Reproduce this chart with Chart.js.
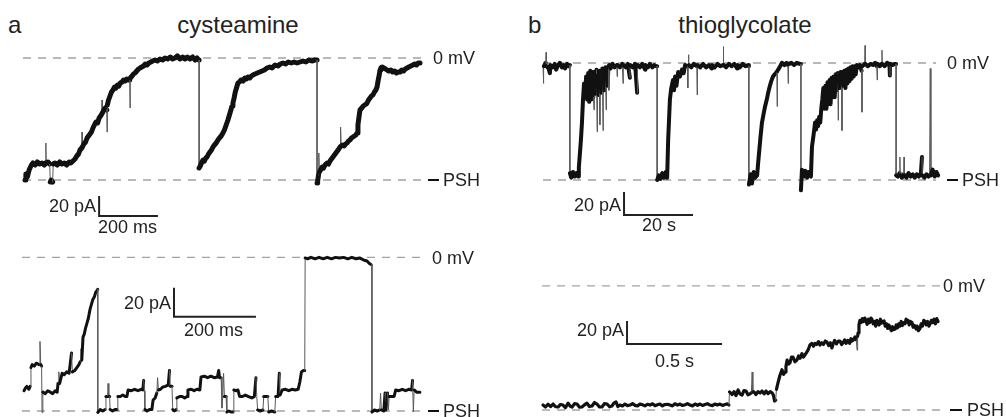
<!DOCTYPE html>
<html><head><meta charset="utf-8">
<script src="https://cdn.jsdelivr.net/npm/chart.js@4"></script>
<style>
html,body{margin:0;padding:0;background:#fff;}
body{width:1006px;height:417px;overflow:hidden;position:relative;font-family:"Liberation Sans",Arial,sans-serif;color:#222;}
canvas{position:absolute;}
.t{position:absolute;white-space:nowrap;line-height:1;}
.dash{position:absolute;background:#111;height:2.5px;}
</style></head><body>
<canvas id="aTop"></canvas>
<canvas id="aBottom"></canvas>
<canvas id="bTop"></canvas>
<canvas id="bBottom"></canvas>
<script>
// ---------- DATA (time, current) ----------
// Panel a, cysteamine, upper trace: time in ms, current in pA (0 = PSH level)
const cysteamineTraceTop = [
[0,0],[3,6],[8,3],[14,10],[17,12],[22,15],[27,17],[35,15],[42,18],[50,16],[58,17],[66,15],[70,17],[71,37],[72,17],[78,18],[84,16],[86,-2],[89,0],[94,-2],[96,16],[102,17],[110,15],[118,18],[126,16],[134,17],[142,15],[150,18],[156,17],[163,19],[170,21],[176,24],[182,26],[187,30],[193,32],[194,48],[195,33],[200,36],[206,38],[211,42],[216,44],[221,46],[226,48],[231,52],[236,55],[241,58],[247,57],[252,62],[257,64],[261,66],[262,80],[263,67],[268,70],[273,72],[278,70],[279,48],[280,75],[284,80],[289,84],[294,88],[299,90],[304,93],[309,92],[314,95],[319,94],[324,97],[330,98],[335,100],[340,99],[346,101],[352,100],[356,100],[357,72],[358,102],[364,104],[369,106],[374,107],[380,109],[386,111],[391,112],[397,113],[403,114],[409,116],[415,115],[421,117],[428,118],[434,119],[442,120],[450,119],[459,121],[468,120],[476,122],[485,121],[494,123],[502,121],[510,122],[518,124],[527,121],[536,123],[544,121],[552,123],[561,121],[570,123],[578,120],[585,122],[590,120],[592,120],[592,12],
[596,14],[600,17],[605,20],[610,19],[615,22],[619,23],[624,26],[629,28],[634,30],[639,33],[644,35],[650,37],[656,40],[661,42],[667,44],[673,47],[678,50],[684,55],[690,60],[695,65],[700,70],[704,74],[707,77],[711,82],[715,88],[720,93],[724,97],[729,98],[734,100],[738,100],[742,99],[747,102],[752,101],[758,103],[764,102],[770,104],[775,105],[782,106],[790,107],[798,108],[806,109],[814,110],[823,112],[832,113],[840,112],[850,115],[860,114],[868,116],[877,117],[886,116],[895,118],[905,117],[915,118],[925,117],[935,118],[945,119],[955,118],[965,120],[975,119],[986,120],[993,120],[993,-3],
[995,-1],[998,5],[999,27],[1001,8],[1005,10],[1010,13],[1015,12],[1020,15],[1027,17],[1032,16],[1037,19],[1042,21],[1047,23],[1052,25],[1057,27],[1062,29],[1067,31],[1071,33],[1073,53],[1075,34],[1080,35],[1085,34],[1090,36],[1095,37],[1100,39],[1105,40],[1110,42],[1115,43],[1120,44],[1125,45],[1129,47],[1132,55],[1136,64],[1139,70],[1145,72],[1150,74],[1155,75],[1160,76],[1163,77],[1168,80],[1173,82],[1178,84],[1183,85],[1188,88],[1193,90],[1197,93],[1201,100],[1205,106],[1207,110],[1210,112],[1214,113],[1220,112],[1226,111],[1231,110],[1237,109],[1244,110],[1250,108],[1257,109],[1263,107],[1270,108],[1275,108],[1281,110],[1287,109],[1293,111],[1299,112],[1305,113],[1312,114],[1319,115],[1325,116],[1331,115],[1337,117],[1343,117]
];
// Panel a, cysteamine, lower trace: time in ms, current in pA
const cysteamineTraceBottom = [
[0,14],[4,16],[7,17],[12,15],[15,17],[17,30],[20,32],[25,31],[30,33],[37,32],[39,48],[41,32],[43,31],[44,-1],[46,13],[52,12],[58,14],[64,13],[70,12],[76,14],[81,13],[83,19],[85,27],[87,19],[93,26],[98,25],[104,27],[110,26],[116,40],[118,27],[124,28],[129,30],[134,32],[137,34],[139,43],[141,35],[144,51],[147,53],[150,57],[154,61],[157,64],[161,70],[164,73],[168,77],[172,79],[175,82],[178,83],[180,84],[180,-1],
[186,1],[192,0],[198,1],[200,10],[204,10],[205,19],[207,10],[209,10],[210,1],[216,0],[222,1],[227,1],[229,10],[235,10],[241,11],[247,10],[251,10],[254,14.5],[262,14],[270,15],[278,14],[286,15],[290,14.5],[292,21],[294,14],[295,1],[300,0],[306,1],[312,1],[315,7.6],[320,9],[324,12.4],[326,23],[328,14.5],[333,15],[339,16.6],[345,17],[352,18],[355,28],[357,17],[361,17],[363,1],[367,0],[371,1],[373,9],[380,10],[386,10],[392,9],[398,10],[400,14.5],[408,15],[415,14],[422,15],[429,14.5],[432,23.5],[440,24],[448,23],[456,24],[464,23],[472,23.5],[475,28],[477,23],[481,23],[483,2],[485,10],[487,26],[489,10],[493,10],[495,-0.7],[500,0],[505,-0.7],[510,-0.7],[512,14.5],[518,14],[522,14.5],[526,10],[533,10],[540,11],[548,10],[556,9],[562,10],[566,23],[568,10],[570,0.7],[576,0],[583,0.7],[585,10],[590,10],[595,10],[597,-0.7],[604,0],[612,-0.7],[614,10],[620,10],[623,26],[625,11],[630,14.5],[638,15],[646,14],[654,15],[662,14.5],[669,15],[673,20],[677,27],[682,28],[685,28],
[686,105.6],[692,105],[700,106],[710,105],[720,106],[730,105],[740,106],[750,105],[760,106],[770,105.5],[780,106],[790,105],[800,106],[810,105],[820,105.5],[830,104],[837,103.5],[842,102],[847,101],[849,101],[849,-0.7],
[855,0.7],[862,0],[868,0.7],[870,12.4],[872,0.7],[878,0],[881,12.4],[883,0.7],[887,12.4],[889,0.7],[891,10],[897,10],[903,10],[905,10],[907,14.5],[915,14],[923,15],[931,14],[939,15],[946,14.5],[948,21],[950,-0.7],[952,14.5],[958,13],[966,13]
];
// Panel b, thioglycolate, upper trace: time in s, current in pA
const thioglycolateTraceTop = [
[0,100],[0.1,84],[0.25,99],[0.8,102],[0.9,111],[1.0,99],[1.6,97],[2.0,93],[2.1,100],[2.8,98],[3.4,101],[3.8,96],[4.4,100],[4.9,102],[5.5,98],[6.0,100],[6.4,97],[7.0,101],[7.5,99],[7.8,100],[7.8,6],
[8.2,2],[8.7,7],[9.2,3],[9.7,6],[10.2,3],[10.4,11],[11.0,35],[11.3,50],[11.6,70],[11.9,84],[12.2,72],[12.5,90],[12.8,70],[13.1,93],[13.4,68],[13.7,95],[14.0,70],[14.3,94],[14.6,72],[14.8,61],[14.9,94],[15.2,75],[15.5,96],[15.7,42],[15.8,91],[16.1,74],[16.4,95],[16.5,48],[16.6,94],[16.9,76],[17.2,97],[17.4,43],[17.5,96],[17.8,78],[18.1,98],[18.3,61],[18.4,97],[18.7,82],[19.0,99],[19.1,78],[19.2,100],[19.6,97],[20.2,101],[20.8,98],[21.4,100],[21.5,90],[21.6,100],[22.3,98],[23.0,101],[23.2,84],[23.3,100],[24.0,98],[24.6,101],[25.2,89],[25.3,100],[26.0,98],[26.7,101],[27.3,76],[27.4,100],[28.1,98],[28.8,101],[29.6,96],[29.7,100],[30.4,98],[31.0,101],[31.7,98],[32.3,100],[32.8,99],[33.1,99],[33.1,0],
[33.6,4],[34.1,1],[34.6,6],[35.1,2],[35.6,7],[36.0,2],[36.3,35],[36.8,70],[37.2,80],[37.7,87],[38.0,78],[38.3,90],[38.7,82],[39.2,94],[39.7,90],[40.3,96],[40.8,93],[41.2,100],[41.9,99],[42.0,80],[42.1,100],[42.2,109],[42.3,100],[43.0,98],[43.7,101],[44.6,99],[44.7,74],[44.8,100],[45.6,98],[46.4,101],[47.3,98],[48.1,100],[48.9,97],[49.0,100],[49.8,98],[50.6,101],[51.4,99],[52.2,100],[52.3,116],[52.4,100],[53.1,98],[53.9,101],[54.7,99],[55.5,101],[56.3,97],[56.4,100],[57.1,98],[57.9,101],[58.7,99],[59.5,100],[59.7,99],[59.7,-4],
[60.2,5],[60.6,-3],[61.1,7],[61.5,2],[62.1,4],[62.4,15],[63.0,35],[63.5,50],[64.0,58],[64.4,64],[64.9,70],[65.3,76],[65.8,82],[66.2,86],[66.7,90],[67.2,92],[67.8,94],[67.9,64],[68.0,95],[68.6,98],[69.3,102],[70.0,100],[70.6,102],[71.0,100],[71.1,84],[71.2,101],[72.0,102],[72.8,100],[73.6,102],[74.5,101],[74.8,101],[74.8,-9],
[75.1,9],[75.6,3],[76.1,8],[76.6,2],[77.1,7],[77.7,3],[78.0,29],[78.5,40],[78.9,50],[79.2,44],[79.5,52],[79.8,47],[80.1,55],[80.4,50],[80.7,62],[81.0,70],[81.3,80],[81.6,62],[81.9,82],[82.2,62],[82.5,85],[82.8,66],[83.1,87],[83.4,66],[83.7,89],[84.0,72],[84.3,90],[84.6,72],[84.9,92],[85.2,78],[85.5,93],[85.6,52],[85.7,91],[86.0,80],[86.3,94],[86.6,82],[86.7,43],[86.8,94],[87.1,82],[87.4,95],[87.7,80],[88.0,96],[88.3,84],[88.6,97],[88.9,86],[89.2,98],[89.5,88],[89.8,99],[90.1,90],[90.4,99],[90.7,92],[91.0,100],[91.5,98],[91.9,100],[92.4,95],[92.5,59],[92.6,99],[93.0,100],[93.3,101],[93.4,117],[93.5,101],[94.2,99],[95.0,101],[95.7,100],[96.3,102],[96.8,99],[96.9,87],[97.0,101],[97.7,99],[98.2,101],[98.3,113],[98.4,101],[99.1,99],[99.8,102],[100.5,99],[100.6,91],[100.7,101],[101.4,100],[102.1,101],[102.4,101],[102.4,4],
[102.9,3],[103.4,6],[103.5,20],[103.6,4],[104.1,2],[104.6,5],[104.7,20],[104.8,4],[105.4,2],[106.0,6],[106.6,3],[107.2,5],[107.8,2],[108.4,5],[109.0,3],[109.6,6],[109.9,20],[110.0,4],[110.6,2],[111.2,5],[111.8,3],[112.1,4],[112.3,97],[112.5,4],[113.0,9],[113.6,3],[114.1,7],[114.6,4]
];
// Panel b, thioglycolate, lower trace: time in ms, current in pA
const thioglycolateTraceBottom = [
[0,4.3],[13,2.6],[26,5],[40,3],[53,5.2],[66,2.8],[79,2.6],[92,4.8],[105,4.3],[118,2],[132,6],[142,3.5],[153,2.6],[166,5.5],[179,5.2],[192,2.4],[205,2.6],[218,4.5],[231,6],[244,3],[258,3.5],[271,6.5],[284,5.2],[297,2.6],[310,2.6],[323,5.5],[337,5.2],[350,2.8],[363,3.5],[373,6],[384,7],[394,3],[405,4.3],[418,3.5],[431,5.2],[444,3.8],[458,4.3],[471,5.6],[484,4],[497,3.5],[510,5.2],[523,4.5],[536,3.6],[550,5],[563,4.3],[576,5.4],[589,3.8],[602,4.6],[615,5.2],[628,3.6],[641,4.8],[655,5],[668,4.3],[681,3.6],[694,5.4],[708,4.2],[721,5.2],[734,3.9],[747,4.6],[760,5.5],[773,4.3],[786,3.6],[800,5.2],[813,4.1],[826,5.2],[839,4],[852,4.8],[865,5.5],[878,4.3],[891,3.8],[904,5.2],[917,4.4],[931,5.2],[944,4],[957,4.8],[970,5.3],[978,4.3],
[981,15.7],[995,13.5],[1005,16],[1015,12.5],[1026,17.4],[1036,14],[1047,13],[1057,16.8],[1068,16.5],[1078,13.2],[1089,14],[1096,15],[1100,33],[1104,15.7],[1110,15.7],[1120,13.5],[1131,16],[1142,14.8],[1152,16.5],[1163,14],[1173,16.5],[1184,14.2],[1195,16],[1205,14.8],[1212,13],[1218,7.8],[1224,8.5],[1228,18],[1236,23.5],[1246,30],[1257,35],[1265,31],[1273,33],[1278,38],[1284,43.5],[1292,40],[1299,41],[1307,46],[1315,46],[1325,42],[1336,43.5],[1344,47],[1352,45],[1362,49],[1370,46],[1378,48],[1386,50],[1394,52],[1404,56.5],[1414,58],[1423,55.5],[1431,58],[1440,57],[1449,59.5],[1457,56.5],[1466,58.5],[1475,57],[1485,60],[1494,59],[1503,56],[1512,58.5],[1520,54],[1525,57],[1534,60.5],[1544,57.5],[1553,60],[1562,60],[1571,57],[1580,59],[1587,61],[1594,58],[1603,60.5],[1613,58],[1620,62],[1625,60],[1633,61],[1641,63.5],[1648,61],[1652,52],[1655,64],[1657,67],[1662,74],[1667,78],[1673,76],[1680,79.5],[1686,77],[1693,80],[1699,77],[1705,74.5],[1712,79],[1718,76],[1725,80],[1730,79],[1737,75],[1743,77],[1750,73],[1756,78],[1762,76],[1768,74],[1775,79],[1781,75.5],[1788,77],[1794,77.5],[1800,73],[1807,75],[1813,71],[1819,74],[1825,72],[1832,69],[1838,72.5],[1845,70],[1852,70.5],[1858,74],[1865,71.5],[1871,75],[1878,73],[1884,77],[1891,73.5],[1897,76],[1904,75],[1910,79],[1915,76.5],[1920,78],[1926,74],[1933,77],[1941,76],[1947,72],[1954,73.5],[1962,70.5],[1968,73],[1975,69],[1983,71],[1989,75],[1996,73],[2003,78],[2009,77],[2016,74],[2023,77],[2030,73],[2036,75],[2043,78],[2050,76],[2057,79],[2064,75],[2071,79.5],[2078,77]
];
// reference levels (pA above PSH) for "0 mV" in each panel
const zeroMvLevels = {aTop: 122, aBottom: 106, bTop: 101.8, bBottom: 108};
// extent of the dashed reference lines [start, end] in each panel's time units
const dashExtents = {aTop: [-6.8, 1350], aBottom: [-5, 971], bTop: [0, 114], bBottom: [-5, 2088]};
// scale bars: [time at corner, current at corner, time length, current length]
const scaleBars = {aTop: [252, -36, 200, 20], aBottom: [366, 65, 200, 20], bTop: [23.5, -30.4, 20, 20], bBottom: [442, 57.4, 500, 20]};

// ---------- LAYOUT ----------
const panels = {
  aTop:    {rect:[0,40,500,200],   origin:[25,180],  perPx:[3.4,1.0],   trace:cysteamineTraceTop,      width:5},
  aBottom: {rect:[0,240,500,177],  origin:[24,411],  perPx:[2.44,0.69], trace:cysteamineTraceBottom,   width:3},
  bTop:    {rect:[500,40,506,200], origin:[543,180], perPx:[0.29,0.87], trace:thioglycolateTraceTop,   width:4},
  bBottom: {rect:[500,240,506,177],origin:[543,410], perPx:[5.26,0.87], trace:thioglycolateTraceBottom,width:3.2}
};

const toXY = arr => arr.map(p => ({x:p[0], y:p[1]}));
const thin = c => Math.abs(c.p1.x - c.p0.x) < 1.0 && Math.abs(c.p1.y - c.p0.y) > 10;

Object.keys(panels).forEach(key => {
  const p = panels[key];
  const [L,T,W,H] = p.rect;
  const cv = document.getElementById(key);
  cv.width = W; cv.height = H;
  cv.style.left = L+'px'; cv.style.top = T+'px';
  cv.style.width = W+'px'; cv.style.height = H+'px';
  const xmin = (L - p.origin[0]) * p.perPx[0];
  const xmax = (L + W - p.origin[0]) * p.perPx[0];
  const ymax = (p.origin[1] - T) * p.perPx[1];
  const ymin = (p.origin[1] - T - H) * p.perPx[1];
  const ext = dashExtents[key];
  const zl = zeroMvLevels[key];
  const sb = scaleBars[key];
  const dashStyle = {borderColor:'#a3a3a3', borderWidth:1.4, borderDash:[8,7], pointRadius:0, order:3, borderCapStyle:'butt'};
  new Chart(cv, {
    type:'line',
    data:{datasets:[
      Object.assign({data:toXY([[ext[0],0],[ext[1],0]])}, dashStyle),
      Object.assign({data:toXY([[ext[0],zl],[ext[1],zl]])}, dashStyle),
      {data:toXY(p.trace), borderColor:'#111', borderWidth:p.width, pointRadius:0, order:1,
       borderJoinStyle:'round', borderCapStyle:'round',
       segment:{borderWidth:c => thin(c) ? 1 : undefined, borderColor:c => thin(c) ? '#5a5a5a' : undefined}},
      {data:toXY([[sb[0], sb[1]+sb[3]],[sb[0], sb[1]],[sb[0]+sb[2], sb[1]]]), borderColor:'#222', borderWidth:2, pointRadius:0, order:2, borderJoinStyle:'miter'}
    ]},
    options:{
      responsive:false, animation:false, devicePixelRatio:1, events:[],
      layout:{padding:0},
      plugins:{legend:{display:false}, tooltip:{enabled:false}, title:{display:false}},
      elements:{line:{tension:0}, point:{radius:0}},
      scales:{
        x:{type:'linear', display:false, min:xmin, max:xmax},
        y:{type:'linear', display:false, min:ymin, max:ymax}
      }
    }
  });
});

// ---------- TEXT LABELS ----------
const labels = [
  // text, x, baseline, size, align
  ['a', 8, 33, 24, 'left'],
  ['cysteamine', 238, 33, 24, 'center'],
  ['b', 528, 33, 24, 'left'],
  ['thioglycolate', 745, 33, 24, 'center'],
  ['0 mV', 433, 64, 18, 'left'],
  ['PSH', 443, 186.5, 18, 'left'],
  ['20 pA', 96, 212, 18, 'right'],
  ['200 ms', 98, 233, 18, 'left'],
  ['0 mV', 432, 264, 18, 'left'],
  ['PSH', 443, 417.5, 18, 'left'],
  ['20 pA', 171, 309, 18, 'right'],
  ['200 ms', 184, 336, 18, 'left'],
  ['0 mV', 947, 69.5, 18, 'left'],
  ['PSH', 962, 186.5, 18, 'left'],
  ['20 pA', 621, 211, 18, 'right'],
  ['20 s', 642, 231, 18, 'left'],
  ['0 mV', 943, 292.5, 18, 'left'],
  ['PSH', 967, 416.5, 18, 'left'],
  ['20 pA', 624, 336, 18, 'right'],
  ['0.5 s', 655, 367, 18, 'left']
];
labels.forEach(([txt,x,base,fs,align]) => {
  const d = document.createElement('div');
  d.className = 't';
  d.textContent = txt;
  d.style.fontSize = fs+'px';
  d.style.top = (base - 0.8465*fs)+'px';
  if (align === 'left') d.style.left = x+'px';
  else if (align === 'right') d.style.right = (1006 - x)+'px';
  else { d.style.left = x+'px'; d.style.transform = 'translateX(-50%)'; }
  document.body.appendChild(d);
});
// short black marks in front of the PSH labels
[[428,180,11],[428,411,11],[947,180,11],[950,410,12]].forEach(([x,y,w]) => {
  const d = document.createElement('div');
  d.className = 'dash';
  d.style.left = x+'px'; d.style.top = (y-1.25)+'px'; d.style.width = w+'px';
  document.body.appendChild(d);
});
</script>
</body></html>
